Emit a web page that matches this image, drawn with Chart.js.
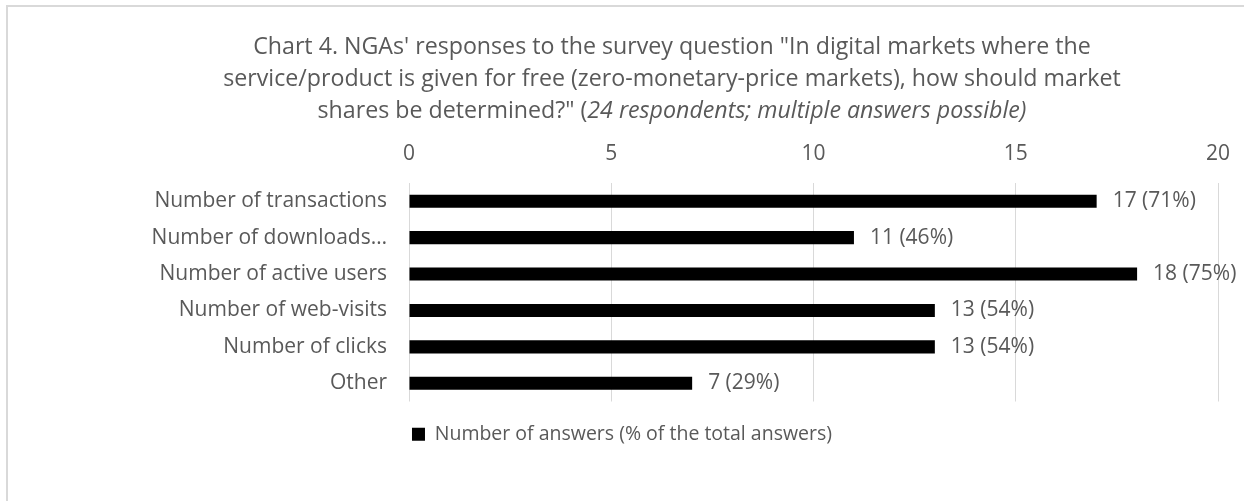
<!DOCTYPE html>
<html>
<head>
<meta charset="utf-8">
<script src="https://cdn.jsdelivr.net/npm/chart.js@4.4.1/dist/chart.umd.min.js"></script>
<style>
  html, body { margin: 0; padding: 0; background: #ffffff; }
  #wrap { position: relative; width: 1244px; height: 501px; }
</style>
</head>
<body>
<div id="wrap"><canvas id="c" width="1244" height="501"></canvas></div>
<script>
const categories = ["Number of transactions", "Number of downloads…", "Number of active users", "Number of web-visits", "Number of clicks", "Other"];
const answers = [17, 11, 18, 13, 13, 7];
const percents = [71, 46, 75, 54, 54, 29];
const xTicks = [0, 5, 10, 15, 20];
const seriesName = "Number of answers (% of the total answers)";
const titleLines = [
  [{t: "Chart 4. NGAs' responses to the survey question \"In digital markets where the", i: false}],
  [{t: "service/product is given for free (zero-monetary-price markets), how should market", i: false}],
  [{t: "shares be determined?\" (", i: false}, {t: "24 respondents; multiple answers possible)", i: true}]
];

const FONT = "'Open Sans'";
const TXT = "#595959";
const LBL = 21;
const LEG = 19.5;
const TTL = 23.2;

const framePlugin = {
  id: 'frame',
  beforeDraw(chart) {
    const ctx = chart.ctx;
    ctx.save();
    ctx.fillStyle = '#ffffff';
    ctx.fillRect(0, 0, chart.width, chart.height);
    ctx.strokeStyle = '#d9d9d9';
    ctx.lineWidth = 2;
    ctx.strokeRect(7, 6, chart.width + 20, chart.height + 20);
    ctx.restore();
  }
};

const titlePlugin = {
  id: 'richTitle',
  afterDraw(chart) {
    const ctx = chart.ctx;
    ctx.save();
    ctx.fillStyle = TXT;
    ctx.textBaseline = 'middle';
    const cx = 672;
    const ys = [47, 79, 111];
    titleLines.forEach((segs, li) => {
      let total = 0;
      segs.forEach(s => { ctx.font = (s.i ? 'italic ' : '') + TTL + 'px ' + FONT; s.w = ctx.measureText(s.t).width; total += s.w; });
      let x = cx - total / 2;
      ctx.textAlign = 'left';
      segs.forEach(s => { ctx.font = (s.i ? 'italic ' : '') + TTL + 'px ' + FONT; ctx.fillText(s.t, x, ys[li]); x += s.w; });
    });
    ctx.restore();
  }
};

const labelPlugin = {
  id: 'barLabels',
  afterDatasetsDraw(chart) {
    const ctx = chart.ctx;
    const meta = chart.getDatasetMeta(0);
    ctx.save();
    ctx.fillStyle = TXT;
    ctx.font = LBL + 'px ' + FONT;
    ctx.textAlign = 'left';
    ctx.textBaseline = 'middle';
    meta.data.forEach((bar, i) => {
      ctx.fillText(answers[i] + ' (' + percents[i] + '%)', bar.x + 16, bar.y);
    });
    ctx.restore();
  }
};

new Chart(document.getElementById('c'), {
  type: 'bar',
  data: {
    labels: categories,
    datasets: [{
      label: seriesName,
      data: answers,
      backgroundColor: '#000000',
      borderWidth: 0,
      categoryPercentage: 1.0,
      barPercentage: 0.36
    }]
  },
  options: {
    indexAxis: 'y',
    responsive: false,
    animation: false,
    layout: { padding: { top: 140, left: 26, right: 26, bottom: 47 } },
    scales: {
      x: {
        position: 'top',
        min: 0, max: 20,
        afterBuildTicks(axis) { axis.ticks = xTicks.map(v => ({ value: v })); },
        afterFit(axis) { axis.height = 43; axis.paddingLeft = 0; axis.paddingRight = 0; },
        grid: { color: '#d9d9d9', lineWidth: 1, drawTicks: false },
        border: { display: false },
        ticks: { color: TXT, font: { family: FONT, size: LBL }, padding: 16 }
      },
      y: {
        afterFit(axis) { axis.width = 383; axis.paddingTop = 0; axis.paddingBottom = 0; },
        grid: { display: false, drawTicks: false },
        border: { display: false },
        ticks: { color: TXT, font: { family: FONT, size: LBL }, padding: 22, autoSkip: false }
      }
    },
    plugins: {
      title: { display: false },
      tooltip: { enabled: false },
      legend: {
        position: 'bottom',
        labels: { color: TXT, font: { family: FONT, size: LEG }, boxWidth: 13, boxHeight: 13, padding: 23 }
      }
    }
  },
  plugins: [framePlugin, titlePlugin, labelPlugin]
});
</script>
</body>
</html>
